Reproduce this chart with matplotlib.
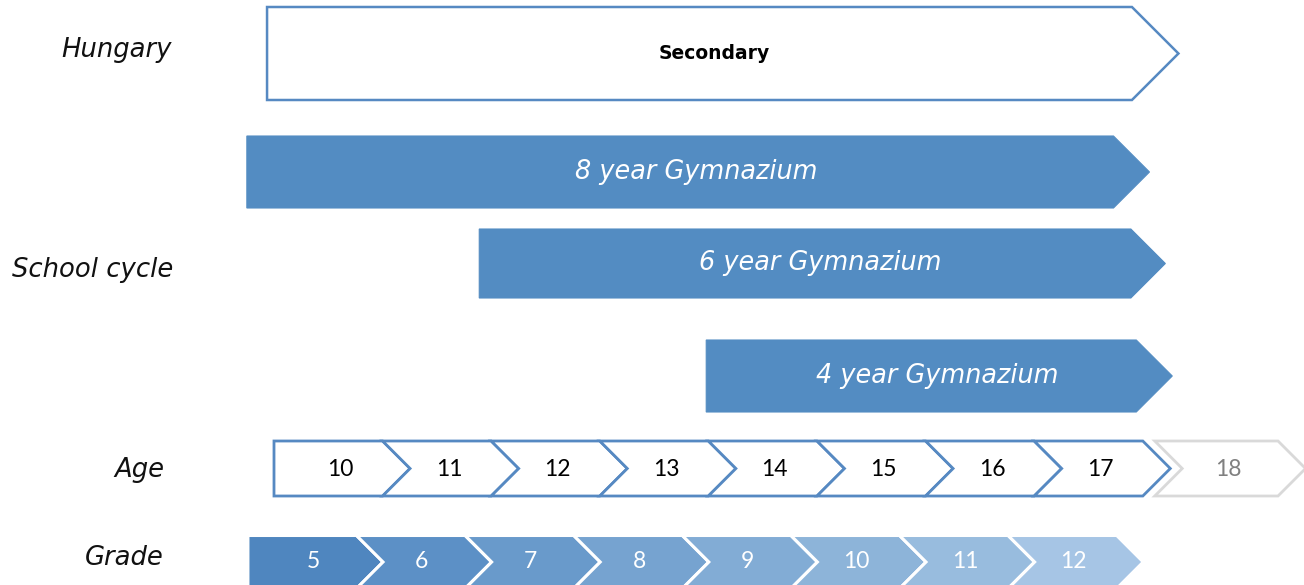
import numpy as np
import matplotlib.pyplot as plt
from matplotlib.patches import Polygon

# data
ages = [10, 11, 12, 13, 14, 15, 16, 17, 18]
grades = [5, 6, 7, 8, 9, 10, 11, 12]
programs = ['8 year Gymnazium', '6 year Gymnazium', '4 year Gymnazium']
prog_start = [10, 12, 14]
prog_end = [18, 18, 18]
stage_label = 'Secondary'
stage_start, stage_end = 10, 18
row_labels = ['Hungary', 'School cycle', 'Age', 'Grade']

# layout (pixel rows, x in age units)
PX = 108.6                      # pixels per year
blue = '#538CC2'
edge_blue = '#5689C2'
grade_colors = ['#4F86BF', '#5C90C6', '#699ACB', '#76A3D0',
                '#82ACD5', '#8DB4D9', '#98BCDE', '#A6C5E5']
prog_rows = [(172, 72), (263.5, 69), (376, 72)]
prog_shift = [(-0.25, -0.27), (-0.11, -0.11), (-0.02, -0.06)]
stage_row = (53.5, 93)
age_row = (468.5, 55)
grade_row = (562, 53)
grade_shift = -0.24


def chevron(x0, x1, yc, h, notch=True):
    t = h / 2 / PX
    top, bot = yc - h / 2, yc + h / 2
    pts = [(x0, top), (x1, top), (x1 + t, yc), (x1, bot), (x0, bot)]
    if notch:
        pts.append((x0 + t, yc))
    return pts, t


fig = plt.figure(figsize=(13.04, 5.85), dpi=100)
ax = fig.add_axes([0, 0, 1, 1])
ax.set_xlim(10 - 274 / PX, 10 + (1304 - 274) / PX)
ax.set_ylim(585, 0)
ax.axis('off')

# Hungary / Secondary
yc, h = stage_row
pts, t = chevron(stage_start - 0.064, stage_end - 0.10, yc, h, notch=False)
ax.add_patch(Polygon(pts, closed=True, fc='white', ec=edge_blue, lw=1.8))
ax.text((pts[0][0] + pts[2][0]) / 2 - 0.08, yc, stage_label, ha='center', va='center',
        fontsize=13.5, fontweight='bold', family='DejaVu Sans', color='black')

# school cycle programmes
for name, s, e, (yc, h), (ds, de) in zip(programs, prog_start, prog_end, prog_rows, prog_shift):
    pts, t = chevron(s + ds, e + de, yc, h, notch=False)
    ax.add_patch(Polygon(pts, closed=True, fc=blue, ec=blue, lw=0.8))
    ax.text((pts[0][0] + pts[2][0]) / 2 - 0.02, yc, name, ha='center', va='center',
            fontsize=18.4, style='italic', color='white', family='DejaVu Sans')

# age row
yc, h = age_row
for i, a in enumerate(ages):
    last = a == ages[-1]
    x0, x1 = (a + 0.11, a + 1.245) if last else (a, a + 1)
    pts, t = chevron(x0, x1, yc, h, notch=i > 0)
    ec = '#D9D9D9' if last else edge_blue
    tc = '#808080' if last else 'black'
    ax.add_patch(Polygon(pts, closed=True, fc='white', ec=ec, lw=2.0, zorder=2 if last else 3))
    ax.text((x0 + x1 + t) / 2 - 0.015, yc + 1, str(a), ha='center', va='center',
            fontsize=16.5, color=tc, family='Lato', zorder=4)

# grade row
yc, h = grade_row
for i, (g, c) in enumerate(zip(grades, grade_colors)):
    x0 = g + 5 + grade_shift
    x1 = x0 + 1
    pts, t = chevron(x0, x1, yc, h, notch=i > 0)
    ax.add_patch(Polygon(pts, closed=True, fc=c, ec='white', lw=2.2, zorder=3 + i * 0.01))
    ax.text((x0 + x1 + t) / 2 - 0.02, yc, str(g), ha='center', va='center',
            fontsize=16.5, color='white', family='Lato', zorder=5)

# row labels
label_pos = [(9.061, 50), (9.07, 270), (8.987, 470), (8.987, 558)]
for lab, (x, y) in zip(row_labels, label_pos):
    ax.text(x, y, lab, ha='right', va='center', fontsize=18.6, style='italic',
            color='#111111', family='DejaVu Sans')

fig.savefig('out.png', dpi=100)
